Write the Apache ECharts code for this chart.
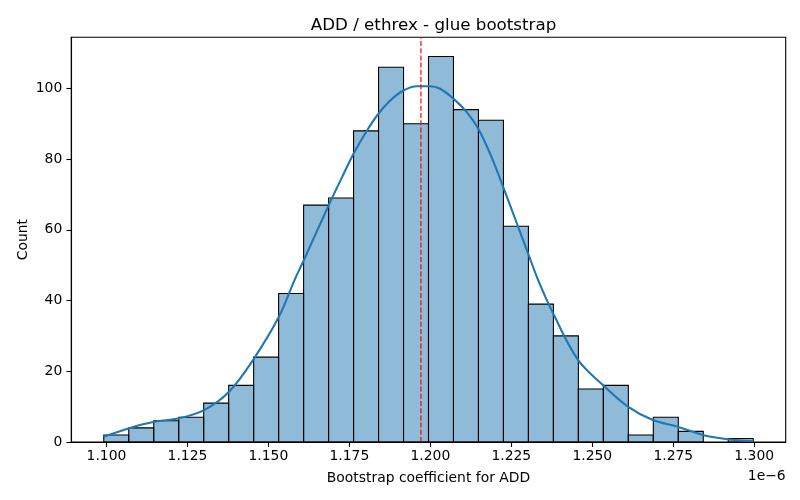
<!DOCTYPE html>
<html>
<head>
<meta charset="utf-8">
<script src="https://cdn.jsdelivr.net/npm/echarts@6/dist/echarts.min.js"></script>
<style>
html,body{margin:0;padding:0;background:#fff;}
#chart{width:800px;height:500px;}
</style>
</head>
<body>
<div id="chart"></div>
<script>
// Values are in units of 1e-6
const binMin = 1.09917;
const binMax = 1.29969;
const counts = [2, 4, 6, 7, 11, 16, 24, 42, 67, 69, 88, 106, 90, 109, 94, 91, 61, 39, 30, 15, 16, 2, 7, 3, 0, 1];

const kdeX = [1.09917, 1.10705, 1.11475, 1.12244, 1.13014, 1.13784, 1.14554, 1.15323, 1.15807, 1.16093,
  1.16863, 1.17275, 1.17632, 1.18045, 1.18402, 1.18762, 1.19172, 1.19584, 1.19994, 1.20302,
  1.20711, 1.21124, 1.21481, 1.21842, 1.22251, 1.22713, 1.23020, 1.23328, 1.23790, 1.24560,
  1.25329, 1.26099, 1.26869, 1.27639, 1.28408, 1.29178, 1.29969];
const kdeY = [1.5, 3.9, 5.7, 6.7, 9.0, 14.2, 23.6, 35.4, 45.8, 51.4,
  67.0, 74.9, 81.6, 88.1, 92.9, 96.6, 99.4, 100.6, 100.6, 99.9,
  97.1, 93.3, 88.6, 81.6, 72.1, 60.8, 53.3, 45.8, 36.4, 23.2,
  16.1, 10.0, 6.2, 4.3, 2.0, 0.8, 0.3];

const meanValue = 1.1971;
const xTicks = [1.100, 1.125, 1.150, 1.175, 1.200, 1.225, 1.250, 1.275, 1.300];
const yTicks = [0, 20, 40, 60, 80, 100];

const titleText = 'ADD / ethrex - glue bootstrap';
const xLabel = 'Bootstrap coefficient for ADD';
const yLabel = 'Count';
const offsetText = '1e\u22126';

// histogram bins
const binWidth = (binMax - binMin) / counts.length;
const histData = counts.map((c, i) => [binMin + i * binWidth, binMin + (i + 1) * binWidth, c]);
const kdeData = kdeX.map((x, i) => [x, kdeY[i]]);

const FONT = 'DejaVu Sans';
const xMin = binMin - 0.05 * (binMax - binMin);
const xMax = binMax + 0.05 * (binMax - binMin);
const yMax = Math.max(...counts) * 1.05;

const chart = echarts.init(document.getElementById('chart'), null, {renderer: 'canvas'});
chart.setOption({
  animation: false,
  backgroundColor: '#ffffff',
  textStyle: {fontFamily: FONT},
  title: {
    text: titleText, left: 428.5, top: 12, textAlign: 'center',
    textStyle: {fontFamily: FONT, fontSize: 16.7, fontWeight: 'normal', color: '#000'}
  },
  grid: {
    left: 71.3, right: 14.3, top: 37.3, bottom: 58,
    show: true, borderColor: '#000', borderWidth: 1.1, backgroundColor: 'transparent'
  },
  xAxis: {
    type: 'value', min: xMin, max: xMax,
    name: xLabel, nameLocation: 'middle', nameGap: 29, nameMoveOverlap: false,
    nameTextStyle: {fontFamily: FONT, fontSize: 13.9, color: '#000'},
    axisLine: {show: true, onZero: false, lineStyle: {color: '#000', width: 1.1}},
    axisTick: {show: true, inside: false, length: 4.9, lineStyle: {color: '#000', width: 1.1}, customValues: xTicks},
    axisLabel: {show: true, margin: 7, fontFamily: FONT, fontSize: 13.9, color: '#000',
      customValues: xTicks, formatter: v => v.toFixed(3)},
    splitLine: {show: false}
  },
  yAxis: {
    type: 'value', min: 0, max: yMax,
    name: yLabel, nameLocation: 'middle', nameGap: 41, nameRotate: 90, nameMoveOverlap: false,
    nameTextStyle: {fontFamily: FONT, fontSize: 13.9, color: '#000'},
    axisLine: {show: true, onZero: false, lineStyle: {color: '#000', width: 1.1}},
    axisTick: {show: true, inside: false, length: 4.9, lineStyle: {color: '#000', width: 1.1}, customValues: yTicks},
    axisLabel: {show: true, margin: 9, fontFamily: FONT, fontSize: 13.9, color: '#000',
      customValues: yTicks, formatter: v => String(v)},
    splitLine: {show: false}
  },
  graphic: [{
    type: 'text', right: 14.3, top: 469,
    style: {text: offsetText, font: '13.9px "DejaVu Sans"', fill: '#000', textAlign: 'right'}
  }],
  series: [{
    type: 'custom',
    name: 'hist',
    data: histData,
    encode: {x: [0, 1], y: 2},
    clip: true,
    z: 2,
    renderItem: function (params, api) {
      const c = api.value(2);
      if (c <= 0) return null;
      const p0 = api.coord([api.value(0), c]);
      const p1 = api.coord([api.value(1), 0]);
      return {
        type: 'rect',
        shape: {x: p0[0], y: p0[1], width: p1[0] - p0[0], height: p1[1] - p0[1]},
        style: {fill: 'rgba(31,119,180,0.5)', stroke: '#000', lineWidth: 1.1}
      };
    }
  }, {
    type: 'line',
    name: 'kde',
    data: kdeData,
    smooth: 0.35,
    showSymbol: false,
    symbol: 'none',
    z: 3,
    lineStyle: {color: '#1f77b4', width: 2.1}
  }, {
    type: 'line',
    name: 'mean',
    data: [[meanValue, 0], [meanValue, yMax]],
    showSymbol: false,
    symbol: 'none',
    silent: true,
    z: 4,
    lineStyle: {color: '#ff0000', width: 1.2, type: [5, 2.2]}
  }]
});
</script>
</body>
</html>
